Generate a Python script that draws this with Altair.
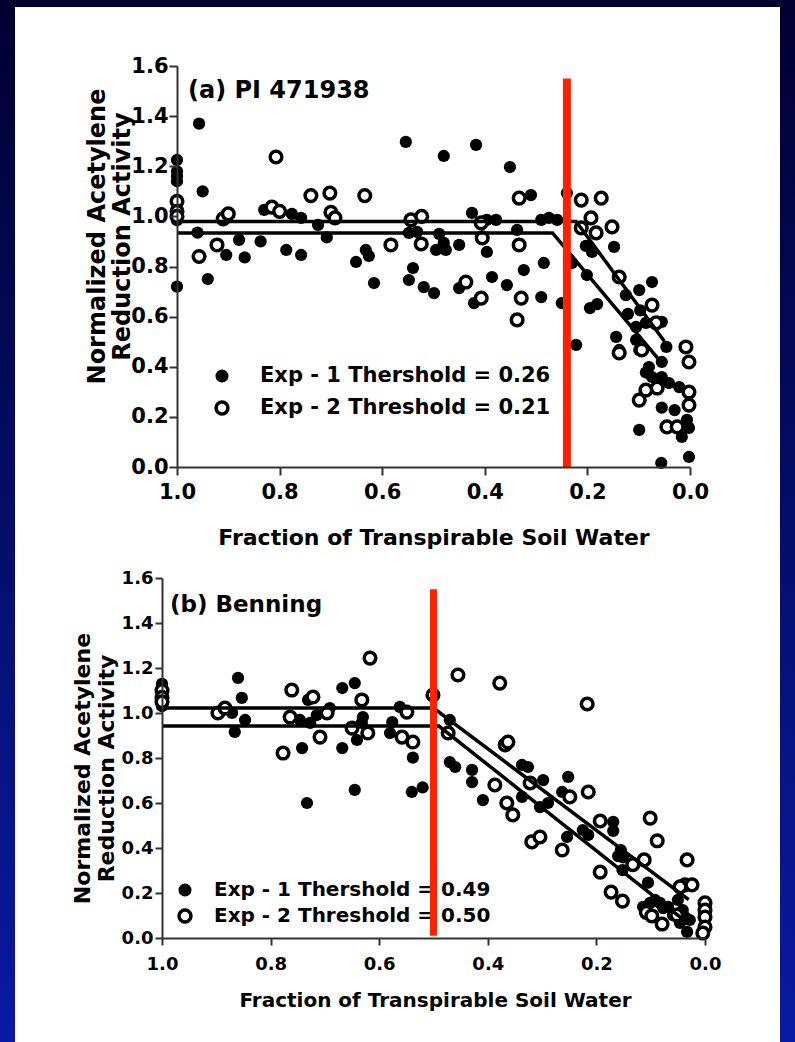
import altair as alt
import pandas as pd

# ---------------- data ----------------
# Panel (a) PI 471938, Exp-1 (filled circles)
a1_x = [1.0, 1.0, 1.0, 1.0, 1.0, 1.0, 0.957, 0.95, 0.96, 0.94, 0.904, 0.879, 0.868, 0.837,
        0.83, 0.787, 0.758, 0.776, 0.758, 0.725, 0.708, 0.651, 0.632, 0.626, 0.616, 0.554,
        0.548, 0.532, 0.54, 0.548, 0.519, 0.499, 0.489, 0.48, 0.495, 0.476, 0.45, 0.48,
        0.417, 0.351, 0.31, 0.24, 0.425, 0.396, 0.378, 0.396, 0.45, 0.421, 0.386, 0.357,
        0.337, 0.324, 0.285, 0.29, 0.25, 0.29, 0.275, 0.259, 0.222, 0.203, 0.191, 0.148,
        0.23, 0.201, 0.195, 0.181, 0.125, 0.099, 0.074, 0.121, 0.097, 0.086, 0.105, 0.055,
        0.144, 0.138, 0.099, 0.105, 0.046, 0.055, 0.08, 0.086, 0.074, 0.055, 0.041, 0.021,
        0.055, 0.03, 0.006, 0.002, 0.016, 0.099, 0.056, 0.002]
a1_y = [1.225, 1.18, 1.16, 1.14, 0.985, 0.72, 1.37, 1.10, 0.935, 0.75, 0.846, 0.906, 0.836, 0.90,
        1.026, 0.866, 0.846, 1.01, 0.994, 0.966, 0.916, 0.818, 0.866, 0.842, 0.734, 1.297,
        0.934, 0.938, 0.794, 0.746, 0.718, 0.694, 0.93, 0.894, 0.866, 0.866, 0.886, 1.241,
        1.285, 1.197, 1.085, 1.093, 1.014, 0.986, 0.986, 0.858, 0.714, 0.654, 0.758, 0.726,
        0.946, 0.786, 0.814, 0.678, 0.654, 0.986, 0.994, 0.986, 0.487, 0.882, 0.858, 0.878,
        0.814, 0.766, 0.634, 0.65, 0.686, 0.706, 0.738, 0.611, 0.625, 0.575, 0.559, 0.579,
        0.519, 0.467, 0.467, 0.507, 0.479, 0.419, 0.399, 0.377, 0.359, 0.359, 0.335, 0.319,
        0.237, 0.227, 0.188, 0.156, 0.12, 0.148, 0.016, 0.04]

# Panel (a), Exp-2 (open circles)
a2_x = [1.0, 1.0, 1.0, 0.807, 0.957, 0.922, 0.91, 0.9, 0.815, 0.8, 0.739, 0.702, 0.70, 0.692,
        0.634, 0.583, 0.544, 0.523, 0.524, 0.333, 0.407, 0.405, 0.437, 0.407, 0.333, 0.329,
        0.337, 0.212, 0.173, 0.193, 0.212, 0.183, 0.152, 0.138, 0.074, 0.066, 0.138, 0.094,
        0.008, 0.002, 0.086, 0.064, 0.099, 0.002, 0.002, 0.045, 0.025]
a2_y = [1.06, 1.02, 1.0, 1.237, 0.84, 0.886, 0.99, 1.01, 1.037, 1.02, 1.083, 1.093, 1.016, 0.994,
        1.083, 0.886, 0.986, 1.0, 0.89, 1.073, 0.974, 0.914, 0.738, 0.674, 0.886, 0.674,
        0.587, 1.065, 1.073, 0.994, 0.954, 0.934, 0.958, 0.758, 0.646, 0.575, 0.455, 0.467,
        0.479, 0.419, 0.307, 0.315, 0.267, 0.299, 0.247, 0.16, 0.16]

# Panel (a) fitted segmented lines
a1_fit_x = [1.0, 0.268, 0.05]
a1_fit_y = [0.934, 0.934, 0.402]
a2_fit_x = [1.0, 0.222, 0.05]
a2_fit_y = [0.98, 0.98, 0.502]
a_threshold = 0.24

# Panel (b) Benning, Exp-1 (filled circles)
b1_x = [1.0, 1.0, 1.0, 1.0, 1.0, 0.871, 0.86, 0.853, 0.847, 0.866, 0.746, 0.742, 0.733, 0.731,
        0.727, 0.715, 0.691, 0.668, 0.668, 0.645, 0.645, 0.63, 0.632, 0.641, 0.576, 0.58,
        0.562, 0.538, 0.54, 0.52, 0.47, 0.47, 0.46, 0.429, 0.429, 0.409, 0.337, 0.326,
        0.298, 0.337, 0.304, 0.289, 0.252, 0.263, 0.254, 0.225, 0.215, 0.169, 0.169, 0.155,
        0.151, 0.16, 0.152, 0.105, 0.101, 0.092, 0.114, 0.083, 0.077, 0.068, 0.059, 0.05,
        0.041, 0.046, 0.033, 0.028, 0.037]
b1_y = [1.13, 1.11, 1.09, 1.06, 1.03, 1.0, 1.156, 1.067, 0.969, 0.916, 0.969, 0.844, 0.60, 1.058,
        0.956, 0.991, 1.022, 1.111, 0.844, 1.133, 0.658, 0.982, 0.956, 0.88, 0.96, 0.911,
        1.027, 0.802, 0.649, 0.669, 0.969, 0.782, 0.76, 0.747, 0.693, 0.613, 0.769, 0.76,
        0.702, 0.627, 0.582, 0.60, 0.716, 0.649, 0.449, 0.48, 0.458, 0.516, 0.476, 0.391,
        0.358, 0.364, 0.302, 0.246, 0.156, 0.169, 0.138, 0.156, 0.133, 0.138, 0.102, 0.169,
        0.124, 0.067, 0.027, 0.08, 0.093]

# Panel (b), Exp-2 (open circles)
b2_x = [1.0, 1.0, 1.0, 0.897, 0.884, 0.777, 0.761, 0.764, 0.722, 0.709, 0.696, 0.632, 0.65,
        0.621, 0.617, 0.549, 0.558, 0.538, 0.501, 0.455, 0.378, 0.217, 0.473, 0.387, 0.365,
        0.354, 0.368, 0.363, 0.322, 0.319, 0.304, 0.249, 0.215, 0.263, 0.193, 0.193, 0.133,
        0.112, 0.173, 0.152, 0.101, 0.088, 0.108, 0.098, 0.079, 0.033, 0.037, 0.024, 0.046,
        0.052, 0.0, 0.0, 0.0, 0.0, 0.004]
b2_y = [1.10, 1.07, 1.05, 1.0, 1.022, 0.822, 1.102, 0.982, 1.071, 0.893, 1.0, 1.058, 0.933,
        0.911, 1.244, 1.004, 0.893, 0.871, 1.08, 1.169, 1.133, 1.04, 0.911, 0.68, 0.60,
        0.547, 0.858, 0.871, 0.689, 0.427, 0.449, 0.627, 0.649, 0.391, 0.52, 0.293, 0.326,
        0.347, 0.204, 0.164, 0.533, 0.432, 0.114, 0.098, 0.062, 0.347, 0.236, 0.236, 0.227,
        0.102, 0.156, 0.124, 0.093, 0.049, 0.022]

# Panel (b) fitted segmented lines
b1_fit_x = [1.0, 0.49, 0.03]
b1_fit_y = [0.942, 0.942, 0.063]
b2_fit_x = [1.0, 0.50, 0.03]
b2_fit_y = [1.022, 1.022, 0.171]
b_threshold = 0.50

tick_values = [0.0, 0.2, 0.4, 0.6, 0.8, 1.0]
y_tick_values = [0.0, 0.2, 0.4, 0.6, 0.8, 1.0, 1.2, 1.4, 1.6]

x_title = "Fraction of Transpirable Soil Water"
y_title = ["Normalized Acetylene", "Reduction Activity"]

FONT = "DejaVu Sans"
RED = "#ff2200"


def pts(xs, ys):
    return pd.DataFrame({"x": xs, "y": ys})


def fit_df(x1, y1, x2, y2):
    return pd.DataFrame({"x": x1 + x2, "y": y1 + y2,
                         "exp": ["1"] * len(x1) + ["2"] * len(x2)})


one = pd.DataFrame({"k": [0]})


def panel(w, h, p1, p2, fits, thr, title, leg1, leg2, s, bg=False):
    xs = alt.Scale(domain=[0, 1], reverse=True, nice=False, zero=False)
    ys = alt.Scale(domain=[0, 1.6], nice=False)
    xaxis = alt.Axis(values=tick_values, format=".1f", grid=False, labelFlush=False,
                     labelOverlap=False, labelFont=FONT, labelFontSize=s["tick_fs"],
                     labelFontWeight="bold", labelColor="black", labelPadding=s["xlabpad"],
                     tickSize=s["tsize"], tickWidth=2, tickColor="#333333", domainWidth=2,
                     domainColor="#333333", title=x_title, titleFont=FONT,
                     titleFontSize=s["xt_fs"], titleFontWeight="bold", titleColor="black",
                     titleX=s["tx"], titleY=s["ty"], titleBaseline="middle",
                     titleAlign="center", zindex=1)
    yaxis = alt.Axis(values=y_tick_values, format=".1f", grid=False, labelFlush=False,
                     labelOverlap=False, labelFont=FONT, labelFontSize=s["tick_fs"],
                     labelFontWeight="bold", labelColor="black", labelPadding=s["ylabpad"],
                     tickSize=s["tsize"], tickWidth=2, tickColor="#333333", domainWidth=2,
                     domainColor="#333333", title=y_title, titleFont=FONT,
                     titleFontSize=s["yt_fs"], titleFontWeight="bold", titleColor="black",
                     titleX=s["ytx"], titleY=s["yty"], titleBaseline="middle",
                     titleAlign="center", titleAngle=270, titleLineHeight=s["ylh"],
                     zindex=1)
    X = alt.X("x:Q", scale=xs, axis=xaxis)
    Y = alt.Y("y:Q", scale=ys, axis=yaxis)

    layers = []
    if bg:
        grad = alt.LinearGradient(gradient="linear",
                                  stops=[alt.GradientStop(offset=0, color="#000030"),
                                         alt.GradientStop(offset=1, color="#0a1aa3")],
                                  x1=0, x2=0, y1=0, y2=1)
        layers.append(alt.Chart(one).mark_rect(fill=grad).encode(
            x=alt.value(-177), x2=alt.value(618), y=alt.value(-66), y2=alt.value(976)))
        layers.append(alt.Chart(one).mark_rect(fill="white").encode(
            x=alt.value(-162), x2=alt.value(603), y=alt.value(-59), y2=alt.value(976)))

    layers.append(alt.Chart(p1).mark_point(shape="circle", filled=True, size=150,
                                           color="black", opacity=1).encode(x=X, y=Y))
    layers.append(alt.Chart(p2).mark_point(shape="circle", filled=True, size=135,
                                           fill="white", stroke="black", strokeWidth=3.5,
                                           opacity=1).encode(x=X, y=Y))
    layers.append(alt.Chart(fits).mark_line(color="black", strokeWidth=3.5).encode(
        x=X, y=Y, detail="exp:N"))
    layers.append(alt.Chart(one).mark_text(text=title, font=FONT, fontSize=s["head_fs"],
                                           fontWeight="bold", align="left",
                                           baseline="alphabetic", color="black").encode(
        x=alt.value(s["head_x"]), y=alt.value(s["head_y"])))
    layers.append(alt.Chart(one).mark_point(shape="circle", filled=True, size=170,
                                            color="black", opacity=1).encode(
        x=alt.value(s["leg_sx"]), y=alt.value(s["leg_y1"])))
    layers.append(alt.Chart(one).mark_point(shape="circle", filled=True, size=140,
                                            fill="white", stroke="black", strokeWidth=3.5,
                                            opacity=1).encode(
        x=alt.value(s["leg_sx"]), y=alt.value(s["leg_y2"])))
    layers.append(alt.Chart(one).mark_text(text=leg1, font=FONT, fontSize=s["leg_fs"],
                                           fontWeight="bold", align="left",
                                           baseline="middle", color="black").encode(
        x=alt.value(s["leg_tx"]), y=alt.value(s["leg_y1"])))
    layers.append(alt.Chart(one).mark_text(text=leg2, font=FONT, fontSize=s["leg_fs"],
                                           fontWeight="bold", align="left",
                                           baseline="middle", color="black").encode(
        x=alt.value(s["leg_tx"]), y=alt.value(s["leg_y2"])))
    layers.append(alt.Chart(pd.DataFrame({"x": [thr], "y": [s["red_y"]],
                                          "y2": [1.55]})).mark_rule(
        color=RED, strokeWidth=s["red_w"]).encode(
        x=alt.X("x:Q", scale=xs), y=alt.Y("y:Q", scale=ys), y2="y2:Q"))
    return alt.layer(*layers).properties(width=w, height=h)


top_style = dict(tick_fs=21, xt_fs=22, yt_fs=24, head_fs=24, leg_fs=21,
                 tx=256.5, ty=70, ytx=-80, yty=170, ylh=25, xlabpad=6, ylabpad=1,
                 head_x=11, head_y=32, leg_sx=45, leg_tx=83, leg_y1=310, leg_y2=342,
                 tsize=8, red_y=0.0, red_w=8)
bottom_style = dict(tick_fs=18, xt_fs=20, yt_fs=22, head_fs=23, leg_fs=20,
                    tx=273, ty=62, ytx=-80, yty=190, ylh=24, xlabpad=10, ylabpad=2,
                    head_x=8, head_y=34, leg_sx=23, leg_tx=52, leg_y1=312, leg_y2=338,
                    tsize=7, red_y=0.01, red_w=7)

top = panel(513, 401, pts(a1_x, a1_y), pts(a2_x, a2_y),
            fit_df(a1_fit_x, a1_fit_y, a2_fit_x, a2_fit_y), a_threshold,
            "(a) PI 471938", "Exp - 1 Thershold = 0.26", "Exp - 2 Threshold = 0.21",
            top_style, bg=True)

bottom = panel(543, 360, pts(b1_x, b1_y), pts(b2_x, b2_y),
               fit_df(b1_fit_x, b1_fit_y, b2_fit_x, b2_fit_y), b_threshold,
               "(b) Benning", "Exp - 1 Thershold = 0.49", "Exp - 2 Threshold = 0.50",
               bottom_style)

chart = alt.vconcat(top, bottom, spacing=111, bounds="flush", center=True).properties(
    padding=0, background="#000030"
).configure_view(stroke=None)

chart.save("out.html", embed_options={"renderer": "svg", "actions": False})
